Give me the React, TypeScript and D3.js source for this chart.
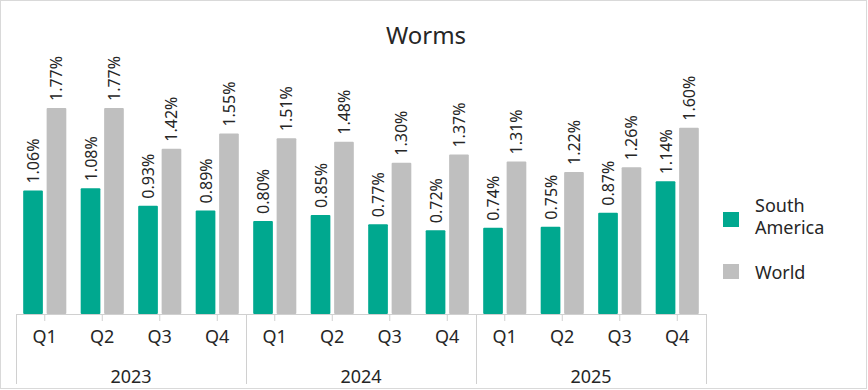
import React from 'react';
import * as d3 from 'd3';

const years = ['2023', '2024', '2025'];
const quarters = ['Q1', 'Q2', 'Q3', 'Q4'];
const southAmerica = [1.06, 1.08, 0.93, 0.89, 0.8, 0.85, 0.77, 0.72, 0.74, 0.75, 0.87, 1.14];
const world = [1.77, 1.77, 1.42, 1.55, 1.51, 1.48, 1.3, 1.37, 1.31, 1.22, 1.26, 1.6];
const seriesNames = ['South America', 'World'];
const colors = ['#00A88F', '#BFBFBF'];

const W = 868;
const H = 390;
const font = '"Noto Sans", sans-serif';
const textColor = '#262626';

export default function App() {
  // one category per quarter of each year
  const cats = years.flatMap((y) => quarters.map((q) => `${y}-${q}`));
  const plot = { left: 16, right: 706, base: 314 };

  const x = d3.scaleBand().domain(cats).range([plot.left, plot.right]).paddingInner(0.25).paddingOuter(0.125);
  const inner = d3.scaleBand().domain(seriesNames).range([0, x.bandwidth()]).paddingInner(0.16);
  const y = d3.scaleLinear().domain([0, 2]).range([plot.base, plot.base - 232.8]);
  const catStep = (plot.right - plot.left) / cats.length;
  const yearX = d3.scaleBand().domain(years).range([plot.left, plot.right]);

  const series = [southAmerica, world];

  return (
    <svg width={W} height={H} style={{ position: 'absolute', left: 0, top: 0 }} fontFamily={font}>
      <rect x={0} y={0} width={W} height={H} fill="#fff" />
      <rect x={0.5} y={0.5} width={W - 2} height={H - 2} fill="none" stroke="#D9D9D9" />

      <text x={426} y={44} textAnchor="middle" fontSize={24} fill={textColor}>
        Worms
      </text>

      {/* bars and labels */}
      {series.map((vals, si) =>
        vals.map((v, i) => {
          const bx = (x(cats[i]) ?? 0) + (inner(seriesNames[si]) ?? 0);
          const bw = inner.bandwidth();
          const cx = bx + bw / 2;
          const ty = y(v) - 7;
          return (
            <g key={`${si}-${i}`}>
              <rect x={bx} y={y(v)} width={bw} height={plot.base - y(v)} fill={colors[si]} rx={1} />
              <text
                transform={`translate(${cx},${ty}) rotate(-90)`}
                dominantBaseline="central"
                fontSize={16}
                fill={textColor}
              >
                {v.toFixed(2)}%
              </text>
            </g>
          );
        })
      )}

      {/* category axis */}
      <line x1={plot.left} x2={plot.right} y1={plot.base + 0.5} y2={plot.base + 0.5} stroke="#D0D0D0" />
      {cats.map((c, i) => {
        const cx = plot.left + catStep * (i + 0.5);
        return (
          <g key={c}>
            <line x1={cx} x2={cx} y1={plot.base} y2={plot.base + 7} stroke="#D0D0D0" />
            <text x={cx} y={343} textAnchor="middle" fontSize={18} fill={textColor}>
              {quarters[i % 4]}
            </text>
          </g>
        );
      })}
      {years.map((yr) => {
        const x0 = yearX(yr) ?? 0;
        return (
          <g key={yr}>
            <line x1={x0 + 0.5} x2={x0 + 0.5} y1={plot.base} y2={384} stroke="#D0D0D0" />
            <text x={x0 + yearX.bandwidth() / 2} y={383} textAnchor="middle" fontSize={18} fill={textColor}>
              {yr}
            </text>
          </g>
        );
      })}
      <line x1={plot.right + 0.5} x2={plot.right + 0.5} y1={plot.base} y2={384} stroke="#D0D0D0" />

      {/* legend */}
      <rect x={723} y={212} width={16} height={15} fill={colors[0]} />
      <text x={755} y={212} fontSize={18} fill={textColor}>
        South
      </text>
      <text x={755} y={234} fontSize={18} fill={textColor}>
        America
      </text>
      <rect x={723} y={264} width={16} height={15} fill={colors[1]} />
      <text x={755} y={279} fontSize={18} fill={textColor}>
        World
      </text>
    </svg>
  );
}
